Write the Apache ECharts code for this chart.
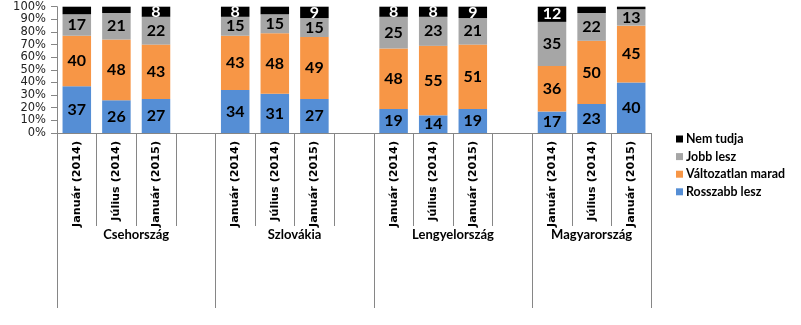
<!DOCTYPE html>
<html>
<head>
<meta charset="utf-8">
<script src="https://cdn.jsdelivr.net/npm/echarts@6/dist/echarts.min.js"></script>
<style>
  html, body { margin: 0; padding: 0; background: #fff; }
  #chart { width: 801px; height: 325px; }
</style>
</head>
<body>
<div id="chart"></div>
<script>
// Survey periods per country; empty strings are the spacer slots between country groups
const periods = [
  'Január (2014)', 'Július (2014)', 'Január (2015)', '',
  'Január (2014)', 'Július (2014)', 'Január (2015)', '',
  'Január (2014)', 'Július (2014)', 'Január (2015)', '',
  'Január (2014)', 'Július (2014)', 'Január (2015)'
];
const countries = ['Csehország', 'Szlovákia', 'Lengyelország', 'Magyarország'];
const countryCenters = [2, 6, 10, 13.5];
const countryBounds = [0, 4, 8, 12, 15];
const periodBounds = [1, 2, 3, 5, 6, 7, 9, 10, 11, 13, 14];

// Answer shares (%), bottom to top of each column
const rosszabb    = [37, 26, 27, null, 34, 31, 27, null, 19, 14, 19, null, 17, 23, 40];
const valtozatlan = [40, 48, 43, null, 43, 48, 49, null, 48, 55, 51, null, 36, 50, 45];
const jobb        = [17, 21, 22, null, 15, 15, 15, null, 25, 23, 21, null, 35, 22, 13];
const nemTudja    = [6, 5, 8, null, 8, 6, 9, null, 8, 8, 9, null, 12, 5, 2];

const yTicks = [0, 10, 20, 30, 40, 50, 60, 70, 80, 90, 100];

const FONT = 'Lato';
const AXIS_GREY = '#868686';

function barSeries(name, data, color, labelColor) {
  return {
    name: name,
    type: 'bar',
    stack: 'total',
    xAxisIndex: 0,
    data: data,
    barWidth: '72%',
    itemStyle: { color: color },
    label: {
      show: true,
      position: 'inside',
      color: labelColor,
      fontFamily: FONT,
      fontWeight: 'bold',
      fontSize: 16,
      formatter: p => (p.value != null && p.value >= 7) ? String(p.value) : ''
    },
    emphasis: { disabled: true }
  };
}

const chart = echarts.init(document.getElementById('chart'), null, { renderer: 'canvas' });

chart.setOption({
  animation: false,
  backgroundColor: '#ffffff',
  textStyle: { fontFamily: FONT },
  grid: { left: 57, right: 150, top: 6.7, bottom: 192, containLabel: false },
  legend: {
    orient: 'vertical',
    left: 671,
    top: 128,
    itemWidth: 7,
    itemHeight: 7,
    itemGap: 5.6,
    icon: 'rect',
    data: ['Nem tudja', 'Jobb lesz', 'Változatlan marad', 'Rosszabb lesz'],
    textStyle: { fontFamily: FONT, fontWeight: 'bold', fontSize: 12.4, color: '#000', padding: [0, 0, 0, -2] }
  },
  xAxis: [
    {
      type: 'category',
      data: periods,
      position: 'bottom',
      axisLine: { show: true, lineStyle: { color: AXIS_GREY, width: 1 } },
      axisTick: { show: false },
      axisLabel: {
        rotate: 90,
        margin: 8,
        interval: 0,
        fontFamily: 'DejaVu Sans',
        fontWeight: 'bold',
        fontSize: 11.2,
        color: '#000'
      }
    },
    {
      type: 'value',
      min: 0,
      max: 15,
      position: 'bottom',
      axisLine: { show: false },
      splitLine: { show: false },
      axisLabel: { show: false },
      axisTick: { show: true, customValues: periodBounds, length: 93, lineStyle: { color: AXIS_GREY } }
    },
    {
      type: 'value',
      min: 0,
      max: 15,
      position: 'bottom',
      axisLine: { show: false },
      splitLine: { show: false },
      axisTick: { show: true, customValues: countryBounds, length: 175, lineStyle: { color: AXIS_GREY } },
      axisLabel: {
        show: true,
        customValues: countryCenters,
        margin: 95,
        fontFamily: FONT,
        fontWeight: 'bold',
        fontSize: 13,
        color: '#000',
        formatter: v => countries[countryCenters.indexOf(v)] || ''
      }
    }
  ],
  yAxis: {
    type: 'value',
    min: 0,
    max: 100,
    interval: 10,
    axisLine: { show: true, lineStyle: { color: AXIS_GREY } },
    axisTick: { show: true, length: 6, lineStyle: { color: AXIS_GREY } },
    splitLine: { show: false },
    axisLabel: {
      margin: 11,
      fontFamily: 'DejaVu Sans',
      fontSize: 11.5,
      lineHeight: 11,
      color: '#222',
      showMinLabel: true,
      showMaxLabel: true,
      hideOverlap: false,
      customValues: yTicks,
      formatter: '{value}%'
    }
  },
  series: [
    barSeries('Rosszabb lesz', rosszabb, '#558ED5', '#000'),
    barSeries('Változatlan marad', valtozatlan, '#F79646', '#000'),
    barSeries('Jobb lesz', jobb, '#A6A6A6', '#000'),
    barSeries('Nem tudja', nemTudja, '#000000', '#fff')
  ]
});
</script>
</body>
</html>
